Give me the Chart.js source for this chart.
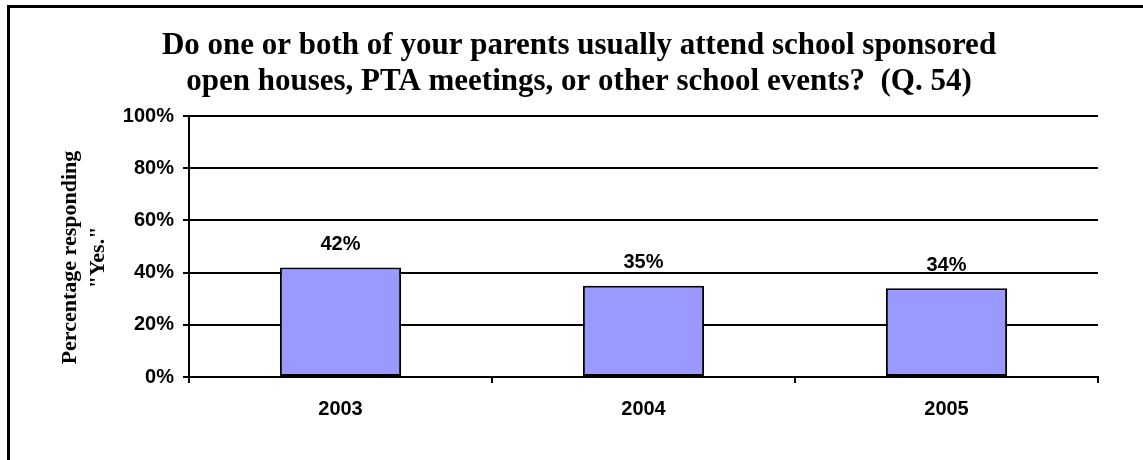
<!DOCTYPE html>
<html>
<head>
<meta charset="utf-8">
<script src="https://cdn.jsdelivr.net/npm/chart.js@4.4.1/dist/chart.umd.min.js"></script>
<style>
  html, body { margin: 0; padding: 0; background: #fff; overflow: hidden; }
  #wrap { position: relative; width: 1143px; height: 460px; }
  #frame { position: absolute; left: 7px; top: 5px; width: 1200px; height: 500px;
           border-top: 3px solid #000; border-left: 3px solid #000; }
  canvas { position: absolute; left: 0; top: 0; }
</style>
</head>
<body>
<div id="wrap">
  <div id="frame"></div>
  <canvas id="parentsChart" width="1143" height="460"></canvas>
</div>
<script>
// dữ liệu biểu đồ
const years = ['2003', '2004', '2005'];
const yesPercent = [42, 35, 34];
const yTicks = [0, 20, 40, 60, 80, 100];

const chartTitle = [
  'Do one or both of your parents usually attend school sponsored',
  'open houses, PTA meetings, or other school events?  (Q. 54)'
];
// khoảng trắng cuối dòng đẩy chữ xoay xuống một chút
const yTitle = ['Percentage responding    ', '"Yes."    '];

const sansBold = { family: '"Liberation Sans", Arial, sans-serif', size: 20, weight: 'bold' };

// nhãn % phía trên mỗi cột
const barLabels = {
  id: 'barLabels',
  afterDatasetsDraw(chart) {
    const ctx = chart.ctx;
    const meta = chart.getDatasetMeta(0);
    ctx.save();
    ctx.font = 'bold 20px "Liberation Sans", Arial, sans-serif';
    ctx.fillStyle = '#000';
    ctx.textAlign = 'center';
    ctx.textBaseline = 'middle';
    meta.data.forEach((bar, i) => {
      ctx.fillText(yesPercent[i] + '%', bar.x, bar.y - 23);
    });
    ctx.restore();
  }
};

const ctx = document.getElementById('parentsChart').getContext('2d');
const parentsChart = new Chart(ctx, {
  type: 'bar',
  data: {
    labels: years,
    datasets: [{
      data: yesPercent,
      backgroundColor: '#9999FF',
      borderColor: '#000',
      borderWidth: 2,
      borderSkipped: false,
      barPercentage: 0.4,
      categoryPercentage: 1
    }]
  },
  options: {
    responsive: false,
    animation: false,
    devicePixelRatio: 1,
    layout: { padding: { left: 60, right: 45, top: 0, bottom: 0 } },
    plugins: {
      legend: { display: false },
      tooltip: { enabled: false },
      title: {
        display: true,
        text: chartTitle,
        color: '#000',
        font: { family: '"Liberation Serif", "Times New Roman", serif', size: 31, weight: 'bold', lineHeight: 36 / 31 },
        padding: { top: 28, bottom: 16 }
      }
    },
    scales: {
      y: {
        min: 0,
        max: 100,
        afterBuildTicks: (scale) => { scale.ticks = yTicks.map(v => ({ value: v })); },
        afterFit: (scale) => { scale.width = 189 - 60; },
        ticks: {
          color: '#000',
          font: sansBold,
          padding: 9,
          callback: (v) => v + '%'
        },
        grid: { color: '#000', lineWidth: 2, tickLength: 6 },
        border: { display: true, color: '#000', width: 2 },
        title: {
          display: true,
          text: yTitle,
          color: '#000',
          font: { family: '"Liberation Serif", "Times New Roman", serif', size: 22, weight: 'bold', lineHeight: 28 / 22 },
          padding: { top: -4, bottom: 0 }
        }
      },
      x: {
        afterFit: (scale) => { scale.height = 460 - 377; },
        ticks: { color: '#000', font: sansBold, padding: 14 },
        grid: { display: true, drawOnChartArea: false, color: '#000', lineWidth: 2, tickLength: 6, offset: true },
        border: { display: true, color: '#000', width: 2 }
      }
    }
  },
  plugins: [barLabels]
});
</script>
</body>
</html>
